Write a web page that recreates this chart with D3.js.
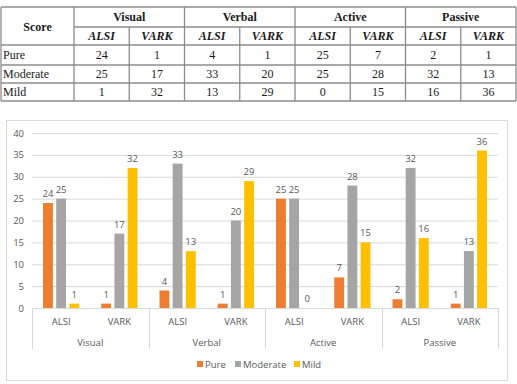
<!DOCTYPE html>
<html>
<head>
<meta charset="utf-8">
<script src="https://cdn.jsdelivr.net/npm/d3@7"></script>
<style>
  body { margin: 0; background: #fff; }
  svg { display: block; }
  .tbl text { font-family: "Liberation Serif", "Times New Roman", serif; font-size: 12px; fill: #1a1a1a; }
  .chart text { font-family: "Open Sans", sans-serif; font-size: 9.5px; fill: #595959; }
</style>
</head>
<body>
<div id="chart"></div>
<script>
// Data
var groups = ["Visual", "Verbal", "Active", "Passive"];
var instruments = ["ALSI", "VARK"];
var seriesNames = ["Pure", "Moderate", "Mild"];
var pure = [24, 1, 4, 1, 25, 7, 2, 1];
var moderate = [25, 17, 33, 20, 25, 28, 32, 13];
var mild = [1, 32, 13, 29, 0, 15, 16, 36];
var yTicks = [0, 5, 10, 15, 20, 25, 30, 35, 40];
var colors = ["#ED7D31", "#A5A5A5", "#FFC000"];

var values = [pure, moderate, mild];
var keys = [];
groups.forEach(function(g) {
  instruments.forEach(function(ins) { keys.push(g + "|" + ins); });
});

var svgWidth = 517;
var svgHeight = 384;

var svg = d3.select("#chart")
  .append("svg")
  .attr("width", svgWidth)
  .attr("height", svgHeight);

// ---------- Table ----------
var tbl = svg.append("g").attr("class", "tbl");
var lineColor = "#8c8c8c";
var tLeft = 1, tRight = 516, scoreRight = 74;
var rowY = [7, 27, 45, 65, 83, 101];

var colX = d3.scaleBand().domain(keys).range([scoreRight, tRight]);
var grpX = d3.scaleBand().domain(groups).range([scoreRight, tRight]);

// horizontal lines
tbl.append("line").attr("x1", tLeft).attr("x2", tRight).attr("y1", rowY[0]).attr("y2", rowY[0]);
tbl.append("line").attr("x1", scoreRight).attr("x2", tRight).attr("y1", rowY[1]).attr("y2", rowY[1]);
[2, 3, 4, 5].forEach(function(i) {
  tbl.append("line").attr("x1", tLeft).attr("x2", tRight).attr("y1", rowY[i]).attr("y2", rowY[i]);
});
// vertical lines
tbl.append("line").attr("x1", tLeft).attr("x2", tLeft).attr("y1", rowY[0]).attr("y2", rowY[5]);
tbl.append("line").attr("x1", tRight).attr("x2", tRight).attr("y1", rowY[0]).attr("y2", rowY[5]);
keys.forEach(function(k, i) {
  var x = colX(k);
  var top = (i % 2 === 0) ? rowY[0] : rowY[1];
  tbl.append("line").attr("x1", x).attr("x2", x).attr("y1", top).attr("y2", rowY[5]);
});
tbl.selectAll("line").attr("stroke", lineColor).attr("stroke-width", 1.3);

tbl.append("text")
  .attr("x", (tLeft + scoreRight) / 2).attr("y", 31)
  .attr("text-anchor", "middle").attr("font-weight", "bold")
  .text("Score");

tbl.selectAll(".grp")
  .data(groups).enter().append("text")
  .attr("x", d => grpX(d) + grpX.bandwidth() / 2)
  .attr("y", 21)
  .attr("text-anchor", "middle").attr("font-weight", "bold")
  .text(d => d);

tbl.selectAll(".ins")
  .data(keys).enter().append("text")
  .attr("x", d => colX(d) + colX.bandwidth() / 2)
  .attr("y", 40)
  .attr("text-anchor", "middle").attr("font-weight", "bold").attr("font-style", "italic")
  .text(d => d.split("|")[1]);

seriesNames.forEach(function(name, r) {
  var yMid = (rowY[r + 2] + rowY[r + 3]) / 2 + 4;
  tbl.append("text").attr("x", 3).attr("y", yMid).text(name);
  keys.forEach(function(k, i) {
    tbl.append("text")
      .attr("x", colX(k) + colX.bandwidth() / 2)
      .attr("y", yMid)
      .attr("text-anchor", "middle")
      .text(values[r][i]);
  });
});

// ---------- Chart ----------
var chart = svg.append("g").attr("class", "chart");

chart.append("rect")
  .attr("x", 6.5).attr("y", 120.5)
  .attr("width", 501).attr("height", 260)
  .attr("fill", "#fff")
  .attr("stroke", "#D9D9D9");

var plotLeft = 32, plotRight = 498, plotTop = 133, plotBottom = 308;

var yScale = d3.scaleLinear().domain([0, 40]).range([plotBottom, plotTop]);
var x0 = d3.scaleBand().domain(keys).range([plotLeft, plotRight]);
var x1 = d3.scaleBand().domain(seriesNames)
  .range([11, x0.bandwidth() - 11]).paddingInner(0.25);
var xGroup = d3.scaleBand().domain(groups).range([plotLeft, plotRight]);

// gridlines + y labels
var leftAxis = d3.axisLeft(yScale)
  .tickValues(yTicks)
  .tickSize(-(plotRight - plotLeft))
  .tickPadding(8);

var yAxisG = chart.append("g")
  .attr("transform", `translate(${plotLeft}, 0)`)
  .call(leftAxis);
yAxisG.select(".domain").remove();
yAxisG.selectAll(".tick line").attr("stroke", "#D9D9D9");
yAxisG.selectAll(".tick text")
  .attr("font-family", "Open Sans, sans-serif")
  .attr("font-size", "9.5px")
  .attr("fill", "#595959");

// bars
var barGroups = chart.selectAll(".bargrp")
  .data(keys).enter().append("g")
  .attr("transform", d => `translate(${x0(d)}, 0)`);

seriesNames.forEach(function(name, s) {
  barGroups.append("rect")
    .attr("x", x1(name))
    .attr("y", (d, i) => yScale(values[s][i]))
    .attr("width", x1.bandwidth())
    .attr("height", (d, i) => plotBottom - yScale(values[s][i]))
    .attr("fill", colors[s]);

  barGroups.append("text")
    .attr("x", x1(name) + x1.bandwidth() / 2)
    .attr("y", (d, i) => yScale(values[s][i]) - 6)
    .attr("text-anchor", "middle")
    .text((d, i) => values[s][i]);
});

// category axis
chart.append("line")
  .attr("x1", plotLeft).attr("x2", plotRight)
  .attr("y1", plotBottom + 0.5).attr("y2", plotBottom + 0.5)
  .attr("stroke", "#D9D9D9");

var bounds = groups.map(g => xGroup(g)).concat([plotRight]);
chart.selectAll(".sep")
  .data(bounds).enter().append("line")
  .attr("x1", d => Math.round(d) + 0.5).attr("x2", d => Math.round(d) + 0.5)
  .attr("y1", plotBottom).attr("y2", 349)
  .attr("stroke", "#D9D9D9");

var bottomAxis = d3.axisBottom(x0)
  .tickSize(0)
  .tickPadding(10)
  .tickFormat(d => d.split("|")[1]);

var xAxisG = chart.append("g")
  .attr("transform", `translate(0, ${plotBottom})`)
  .call(bottomAxis);
xAxisG.select(".domain").remove();
xAxisG.selectAll(".tick text")
  .attr("font-family", "Open Sans, sans-serif")
  .attr("font-size", "9.5px")
  .attr("fill", "#595959");

chart.selectAll(".glabel")
  .data(groups).enter().append("text")
  .attr("x", d => xGroup(d) + xGroup.bandwidth() / 2)
  .attr("y", 346)
  .attr("text-anchor", "middle")
  .text(d => d);

// legend
var legendX = [197, 235, 294];
var legend = chart.selectAll(".legend")
  .data(seriesNames).enter().append("g")
  .attr("transform", (d, i) => `translate(${legendX[i]}, 361)`);
legend.append("rect")
  .attr("width", 6).attr("height", 6)
  .attr("fill", (d, i) => colors[i]);
legend.append("text")
  .attr("x", 8).attr("y", 6.5)
  .text(d => d);
</script>
</body>
</html>
